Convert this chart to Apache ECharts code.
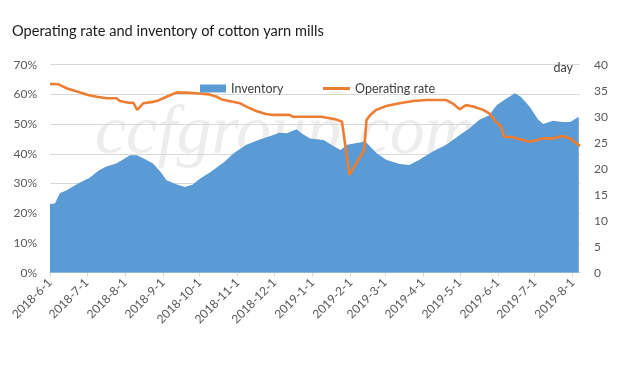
<!DOCTYPE html>
<html>
<head>
<meta charset="utf-8">
<script src="https://cdn.jsdelivr.net/npm/echarts@6/dist/echarts.min.js"></script>
<style>
html,body{margin:0;padding:0;background:#fff;}
#chart{width:627px;height:375px;}
</style>
</head>
<body>
<div id="chart"></div>
<script>
// Inventory (days, right axis)
var invDates = ['2018-06-01','2018-06-05','2018-06-09','2018-06-15','2018-06-19','2018-06-25','2018-07-03','2018-07-11','2018-07-17','2018-07-25','2018-07-31','2018-08-05','2018-08-11','2018-08-16','2018-08-24','2018-08-30','2018-09-04','2018-09-12','2018-09-19','2018-09-25','2018-10-02','2018-10-09','2018-10-21','2018-10-29','2018-11-08','2018-11-19','2018-11-30','2018-12-05','2018-12-11','2018-12-19','2018-12-23','2018-12-30','2019-01-10','2019-01-19','2019-01-24','2019-01-29','2019-02-12','2019-02-14','2019-02-22','2019-03-02','2019-03-13','2019-03-21','2019-03-29','2019-04-09','2019-04-20','2019-05-01','2019-05-09','2019-05-17','2019-05-25','2019-05-31','2019-06-08','2019-06-15','2019-06-20','2019-06-27','2019-07-04','2019-07-08','2019-07-16','2019-07-24','2019-07-30','2019-08-06'];
var invValues = [13.2,13.3,15.3,15.9,16.5,17.3,18.2,19.7,20.4,21.0,21.8,22.6,22.6,22.0,21.0,19.4,17.8,17.0,16.5,16.9,18.2,19.2,21.3,23.0,24.6,25.6,26.5,26.9,26.8,27.6,26.8,25.8,25.5,24.2,23.6,24.6,25.2,25.0,23.0,21.7,20.9,20.7,21.7,23.3,24.6,26.5,27.8,29.4,30.3,32.2,33.5,34.5,33.8,31.9,29.4,28.6,29.2,29.0,29.0,30.0];

// Operating rate (%, left axis)
var rateDates = ['2018-06-01','2018-06-08','2018-06-15','2018-06-19','2018-06-25','2018-07-02','2018-07-09','2018-07-17','2018-07-25','2018-07-28','2018-08-04','2018-08-08','2018-08-11','2018-08-16','2018-08-24','2018-08-28','2018-09-04','2018-09-12','2018-09-20','2018-09-28','2018-10-09','2018-10-15','2018-10-19','2018-10-28','2018-11-03','2018-11-08','2018-11-16','2018-11-24','2018-11-30','2018-12-13','2018-12-16','2019-01-08','2019-01-15','2019-01-20','2019-01-25','2019-01-31','2019-02-12','2019-02-14','2019-02-17','2019-02-22','2019-03-02','2019-03-13','2019-03-24','2019-04-04','2019-04-20','2019-04-25','2019-05-01','2019-05-06','2019-05-12','2019-05-20','2019-05-25','2019-05-30','2019-06-04','2019-06-06','2019-06-13','2019-06-27','2019-07-08','2019-07-16','2019-07-24','2019-07-30','2019-08-07'];
var rateValues = [63.5,63.4,62.0,61.5,60.7,59.8,59.2,58.7,58.7,57.8,57.2,57.2,54.8,57.0,57.5,57.9,59.2,60.6,60.6,60.4,60.0,59.2,58.3,57.5,57.0,55.9,54.4,53.4,53.1,53.1,52.5,52.5,52.0,51.6,50.8,32.9,41.3,51.4,53.1,54.8,56.1,57.0,57.8,58.1,58.1,57.0,55.0,56.4,55.9,54.8,53.6,51.0,49.0,45.8,45.6,44.1,45.2,45.2,46.0,45.2,42.6];

var leftTicks = [0, 70, 10];   // min, max, step (%)
var rightTicks = [0, 40, 5];   // min, max, step (days)

function pairs(d, v){ return d.map(function(x,i){ return [x, v[i]]; }); }

var chart = echarts.init(document.getElementById('chart'), null, {renderer:'canvas'});
var lab = {fontFamily:'Lato', fontSize:12, color:'#595959'};
var legText = {fontFamily:'Lato', fontSize:12.5, color:'#404040'};
chart.setOption({
  animation:false,
  backgroundColor:'#fff',
  textStyle:{fontFamily:'Lato'},
  title:{
    text:'Operating rate and inventory of cotton yarn mills',
    left:7, top:19,
    textStyle:{fontFamily:'Lato', fontSize:14.6, fontWeight:'normal', color:'#1a1a1a'}
  },
  graphic:[{
    type:'text', left:95, top:100, z:-10, silent:true,
    style:{text:'ccfgroup.com', font:'italic 70px "Liberation Serif"', fill:'#ededed'}
  }],
  legend:[{
    left:195, top:77, itemWidth:26, itemHeight:8,
    textStyle:legText,
    data:[{name:'Inventory', icon:'rect'}]
  },{
    left:318, top:77, itemWidth:27, itemHeight:3,
    textStyle:legText,
    data:[{name:'Operating rate', icon:'rect'}]
  }],
  grid:{left:50, right:47, top:64.7, bottom:102.3, containLabel:false},
  xAxis:{
    type:'time', min:'2018-06-01', max:'2019-08-07',
    minInterval:28*86400000, maxInterval:31*86400000,
    axisLine:{show:true, lineStyle:{color:'#d9d9d9'}},
    axisTick:{show:true, length:4, lineStyle:{color:'#d9d9d9'}},
    splitLine:{show:false},
    axisLabel:Object.assign({}, lab, {rotate:45, margin:8, hideOverlap:false, showMinLabel:true, showMaxLabel:false,
      formatter:function(v){ var d=new Date(v); return d.getDate()===1 ? d.getFullYear()+'-'+(d.getMonth()+1)+'-1' : ''; }})
  },
  yAxis:[{
    type:'value', min:leftTicks[0], max:leftTicks[1], interval:leftTicks[2],
    axisLine:{show:false}, axisTick:{show:false},
    splitLine:{lineStyle:{color:'#d9d9d9'}},
    axisLabel:Object.assign({}, lab, {formatter:'{value}%', margin:13})
  },{
    type:'value', min:rightTicks[0], max:rightTicks[1], interval:rightTicks[2],
    name:'day', nameLocation:'end', nameGap:-3,
    nameTextStyle:{fontFamily:'Lato', fontSize:12.5, color:'#404040', align:'right', verticalAlign:'middle', padding:[0,7,0,0]},
    axisLine:{show:false}, axisTick:{show:false}, splitLine:{show:false},
    axisLabel:Object.assign({}, lab, {margin:14})
  }],
  series:[{
    name:'Inventory', type:'line', yAxisIndex:1, symbol:'none',
    color:'#5b9bd5',
    lineStyle:{width:0, color:'#5b9bd5'},
    areaStyle:{color:'#5b9bd5', opacity:1},
    data:pairs(invDates, invValues)
  },{
    name:'Operating rate', type:'line', yAxisIndex:0, symbol:'none',
    color:'#ed7d31',
    lineStyle:{width:2.6, color:'#ed7d31'},
    data:pairs(rateDates, rateValues)
  }]
});
</script>
</body>
</html>
